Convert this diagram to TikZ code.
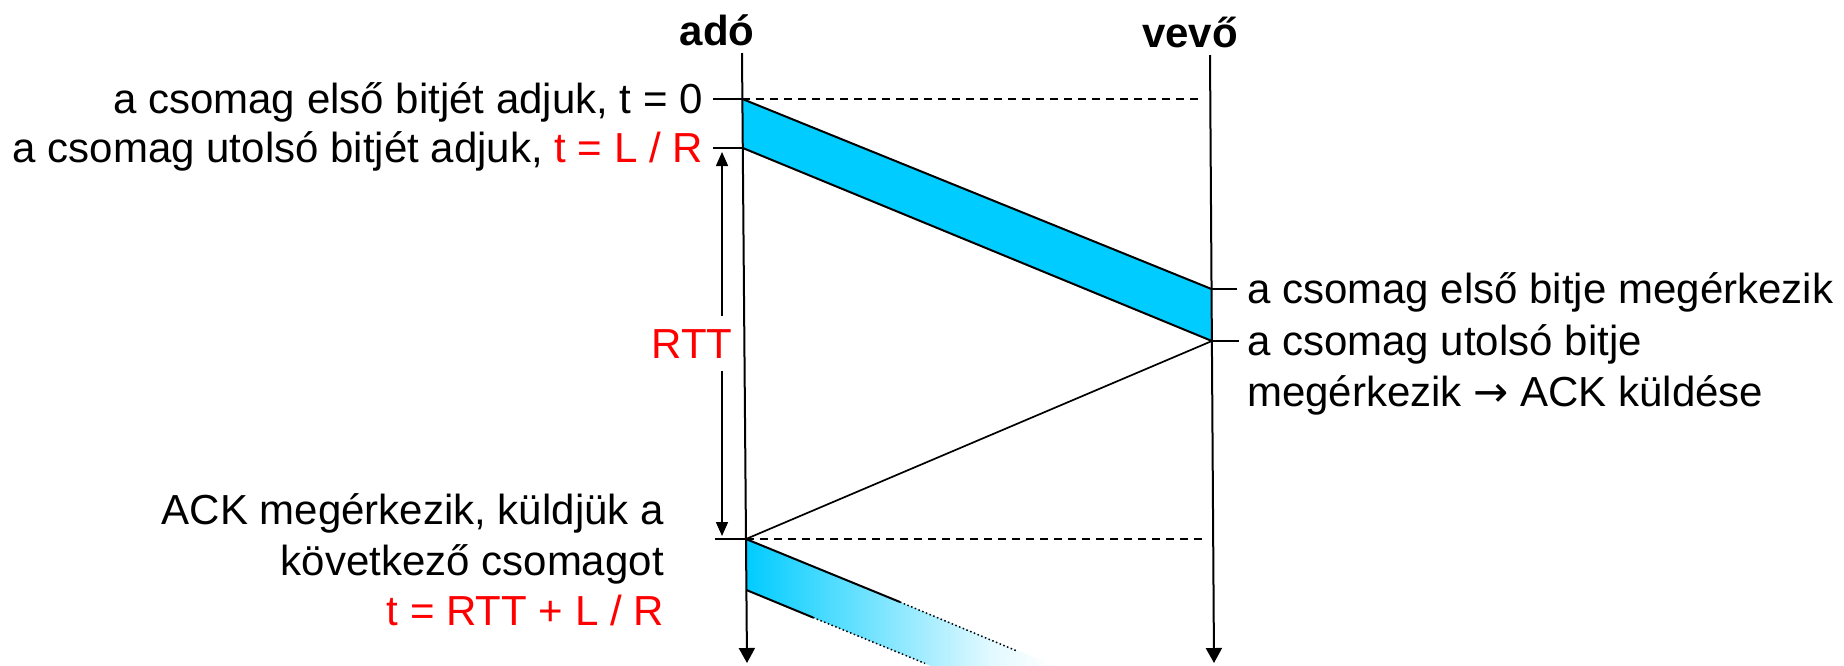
\documentclass[tikz,border=0pt]{standalone}
\usepackage{fontspec}
\setmainfont{Liberation Sans}
\newfontfamily\symfont{DejaVu Sans}
\usetikzlibrary{arrows.meta}
\definecolor{pkt}{RGB}{0,204,255}
\definecolor{lbl}{RGB}{255,0,0}
\pgfdeclarehorizontalshading{pktfade}{100bp}{color(0bp)=(pkt); color(25bp)=(pkt); color(50bp)=(pkt!45!white); color(65bp)=(pkt!12!white); color(75bp)=(white); color(100bp)=(white)}
\begin{document}
\begin{tikzpicture}[x=1pt,y=-1pt,
  lab/.style={font=\fontsize{42}{50}\selectfont, inner sep=0pt},
  head/.style={font=\fontsize{42}{50}\selectfont\bfseries, inner sep=0pt},
  timeline/.style={line width=2pt, -{Triangle[length=15pt,width=16pt]}},
  tick/.style={line width=2pt},
  guide/.style={line width=1.5pt, dash pattern=on 8pt off 6pt},
  edge/.style={line width=2pt},
  fade/.style={line width=1.5pt, dash pattern=on 1.5pt off 2.5pt},
  span/.style={line width=1.5pt, -{Triangle[length=14pt,width=12pt]}}
]
\useasboundingbox (0,0) rectangle (1844,665);
% time lines
\coordinate (sTop) at (742,53);
\coordinate (sBot) at (747,663);
\coordinate (rTop) at (1210,55);
\coordinate (rBot) at (1214,663);
% event points
\coordinate (s0) at (742.4,99);
\coordinate (s1) at (742.8,148);
\coordinate (s2) at (746,539);
\coordinate (s3) at (746.4,590);
\coordinate (r0) at (1211.5,289);
\coordinate (r1) at (1211.9,341);
% tick ends
\coordinate (t0) at (713,99);
\coordinate (t1) at (713,148);
\coordinate (t2) at (715,539);
\coordinate (u0) at (1237,289);
\coordinate (u1) at (1239,341);
\coordinate (d0) at (1202,99);
\coordinate (d2) at (1202,539);
% next packet edge points
\coordinate (n1) at (900,602);
\coordinate (n2) at (1017,651);
\coordinate (m1) at (813,617.5);
\coordinate (m2) at (925,663.4);
\coordinate (f0) at (1050,663.6);
\coordinate (f1) at (1050,668.6);
\coordinate (f2) at (937,668.6);
% RTT arrow ends
\coordinate (a1) at (722,152);
\coordinate (a2) at (722,536);

% first packet
\fill[pkt] (s0) -- (r0) -- (r1) -- (s1) -- cycle;
\draw[edge] (s0) -- (r0);
\draw[edge] (s1) -- (r1);
% ACK
\draw[line width=1.7pt] (r1) -- (s2);
% next packet (fading)
\begin{scope}
\clip (0,0) rectangle (1844,665);
\shade[shading=pktfade] (s2) -- (f0) -- (f1) -- (f2) -- (s3) -- cycle;
\end{scope}
\draw[edge] (s2) -- (n1);
\draw[fade] (n1) -- (n2);
\draw[edge] (s3) -- (m1);
\draw[fade] (m1) -- (m2);

% guides
\draw[guide] (s0) -- (d0);
\draw[guide] (s2) -- (d2);
% ticks
\draw[tick] (t0) -- (s0);
\draw[tick] (t1) -- (s1);
\draw[tick] (t2) -- (s2);
\draw[tick] (r0) -- (u0);
\draw[tick] (r1) -- (u1);

% time lines
\draw[timeline] (sTop) -- (sBot);
\draw[timeline] (rTop) -- (rBot);

% headers
\node[head, anchor=base] (ado) at (717,45) {adó};
\node[head, anchor=base] (vevo) at (1190,47) {vevő};

% left labels
\node[lab, anchor=base east] (l1) at (703,113) {a csomag első bitjét adjuk, t = 0};
\node[lab, anchor=base east] (l2) at (703,162) {a csomag utolsó bitjét adjuk, \textcolor{lbl}{t = L / R}};

% RTT
\node[lab, text=lbl, anchor=base, inner ysep=13pt] (rtt) at (692,358) {RTT};
\draw[span] (rtt.north -| a1) -- (a1);
\draw[span] (rtt.south -| a2) -- (a2);

% right labels
\node[lab, anchor=base west] (r1a) at (1247,303) {a csomag első bitje megérkezik};
\node[lab, anchor=base west] (r2a) at (1247,355) {a csomag utolsó bitje};
\node[lab, anchor=base west] (r2b) at (1247,406) {megérkezik {\symfont →} ACK küldése};

% bottom left labels
\node[lab, anchor=base east] (b1) at (664,524) {ACK megérkezik, küldjük a};
\node[lab, anchor=base east] (b2) at (664,575) {következő csomagot};
\node[lab, anchor=base east, text=lbl] (b3) at (664,625) {t = RTT + L / R};
\end{tikzpicture}
\end{document}
